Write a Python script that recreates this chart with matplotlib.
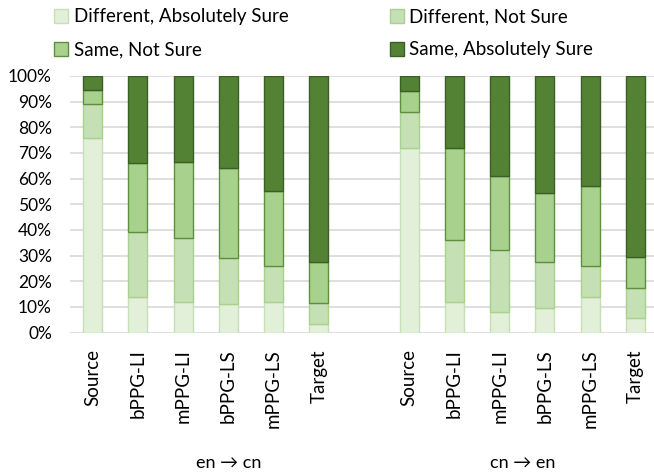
import matplotlib
matplotlib.use("Agg")
import matplotlib.pyplot as plt
import numpy as np

# categories / data (percent)
models = ["Source", "bPPG-LI", "mPPG-LI", "bPPG-LS", "mPPG-LS", "Target"]
groups = ["en \u2192 cn", "cn \u2192 en"]
series = ["Different, Absolutely Sure", "Different, Not Sure",
          "Same, Not Sure", "Same, Absolutely Sure"]

diff_abs = [76, 14, 12, 11, 12, 3.5,   72, 12, 8, 9.5, 14, 5.5]
diff_not = [13, 25, 25, 18, 14, 8,     14, 24, 24, 18, 12, 12]
same_not = [5.5, 27, 29.5, 35, 29, 16, 8, 36, 29, 27, 31, 12]
same_abs = [5.5, 34, 33.5, 36, 45, 72.5, 6, 28, 39, 45.5, 43, 70.5]

fills = ["#E2F0D9", "#C5E0B4", "#A9D18E", "#548235"]
edges = ["#C5E0B4", "#A9D18E", "#5E8F3E", "#3B5E25"]

FONT = ["Lato", "DejaVu Sans"]

x = np.array(list(range(6)) + list(range(7, 13)))

fig = plt.figure(figsize=(6.54, 4.72), dpi=100)
ax = fig.add_axes([70 / 654, (472 - 332.5) / 472, 588 / 654, 256.5 / 472])

bottom = np.zeros(len(x))
handles = []
for vals, fc, ec, name in zip([diff_abs, diff_not, same_not, same_abs], fills, edges, series):
    vals = np.array(vals, dtype=float)
    b = ax.bar(x, vals, 0.42, bottom=bottom, color=fc, edgecolor=ec, linewidth=1.0,
               label=name, zorder=3)
    handles.append(b)
    bottom += vals

ax.set_ylim(0, 100)
ax.set_xlim(-0.5, 12.5)
ax.set_yticks(np.arange(0, 101, 10))
ax.set_yticklabels([f"{v}%" for v in range(0, 101, 10)], family=FONT, fontsize=12.5)
ax.yaxis.grid(True, color="#D9D9D9", linewidth=1.2, zorder=0)
ax.set_xticks(x)
ax.set_xticklabels(models * 2, rotation=90, fontsize=13.5, family=FONT)
ax.tick_params(axis="both", length=0)
ax.tick_params(axis="x", pad=12)
ax.tick_params(axis="y", pad=13)
for s in ax.spines.values():
    s.set_visible(False)

# group labels
ax.text(3, -51, groups[0], ha="center", va="center", fontsize=13,
        family=FONT, clip_on=False)
ax.text(9.5, -51, groups[1], ha="center", va="center", fontsize=13,
        family=FONT, clip_on=False)

order = [0, 2, 1, 3]
fig.legend([handles[i] for i in order], [series[i] for i in order],
           loc="upper left", bbox_to_anchor=(37 / 654, 1.018), ncol=2, frameon=False,
           prop={"family": "Lato", "size": 13.5}, handlelength=0.75, handleheight=0.75,
           handletextpad=0.3, columnspacing=5.4, labelspacing=0.85)

fig.savefig("out.png", dpi=100)
